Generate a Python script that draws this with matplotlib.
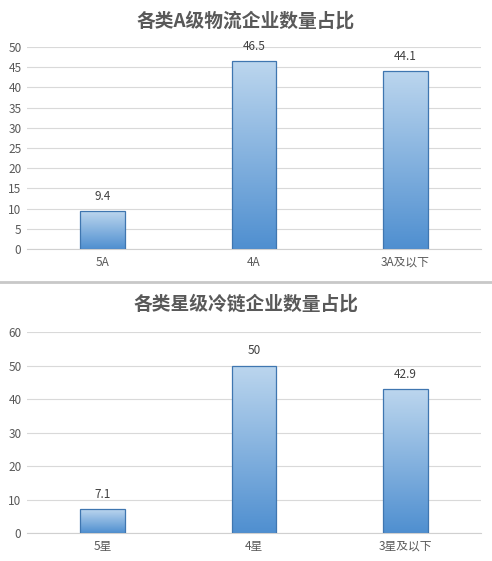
import matplotlib
matplotlib.use("Agg")
import matplotlib.pyplot as plt
import numpy as np
from matplotlib.colors import LinearSegmentedColormap
from matplotlib.lines import Line2D

plt.rcParams['font.family'] = ['Noto Sans CJK SC', 'DejaVu Sans']

title1 = "各类A级物流企业数量占比"
cats1 = ["5A", "4A", "3A及以下"]
vals1 = [9.4, 46.5, 44.1]
labels1 = ["9.4", "46.5", "44.1"]

title2 = "各类星级冷链企业数量占比"
cats2 = ["5星", "4星", "3星及以下"]
vals2 = [7.1, 50, 42.9]
labels2 = ["7.1", "50", "42.9"]

fig = plt.figure(figsize=(4.92, 5.61), dpi=100)
fig.patch.set_facecolor('white')

cmap = LinearSegmentedColormap.from_list("g", ["#4f8fd0", "#bcd6ee"])
grad = np.linspace(0, 1, 256).reshape(-1, 1)

def draw(ax, title, cats, vals, labels, ymax, step, title_y):
    x = np.arange(len(cats))
    bars = ax.bar(x, vals, width=0.295, color='none', edgecolor='#3f76b0', linewidth=0.9, zorder=3)
    for b in bars:
        x0, y0 = b.get_x(), b.get_y()
        w, h = b.get_width(), b.get_height()
        im = ax.imshow(grad, extent=[x0, x0 + w, y0, y0 + h], origin='lower',
                       cmap=cmap, aspect='auto', zorder=2)
        im.set_clip_path(b)
    for xi, v, lab in zip(x, vals, labels):
        ax.annotate(lab, (xi, v), xytext=(0, 6), textcoords='offset points',
                    ha='center', va='bottom', fontsize=8.5, color='#404040')
    ax.set_xlim(-0.5, len(cats) - 0.5)
    ax.set_ylim(0, ymax)
    ax.set_yticks(np.arange(0, ymax + 0.1, step))
    ax.set_xticks(x)
    ax.set_xticklabels(cats)
    ax.yaxis.grid(True, color='#d9d9d9', linewidth=0.8, zorder=0)
    ax.set_axisbelow(True)
    for s in ['left', 'right', 'top']:
        ax.spines[s].set_visible(False)
    ax.spines['bottom'].set_color('#d0d0d0')
    ax.spines['bottom'].set_linewidth(0.8)
    ax.tick_params(axis='both', length=0, labelsize=8.5, colors='#595959', pad=5)
    ax.tick_params(axis='y', pad=4)
    fig.text(0.5, title_y, title, ha='center', va='center', fontsize=13.5,
             fontweight='bold', color='#595959')

ax1 = fig.add_axes([0.0549, 0.5561, 0.9227, 0.3601])
draw(ax1, title1, cats1, vals1, labels1, 50, 5, 1 - 21 / 561)

ax2 = fig.add_axes([0.0549, 0.0499, 0.9227, 0.3583])
draw(ax2, title2, cats2, vals2, labels2, 60, 10, 1 - 304 / 561)

fig.add_artist(Line2D([0, 1], [1 - 282 / 561, 1 - 282 / 561], transform=fig.transFigure,
                      color='#c8c8c8', linewidth=2))

fig.savefig("out.png", dpi=100, facecolor='white')
